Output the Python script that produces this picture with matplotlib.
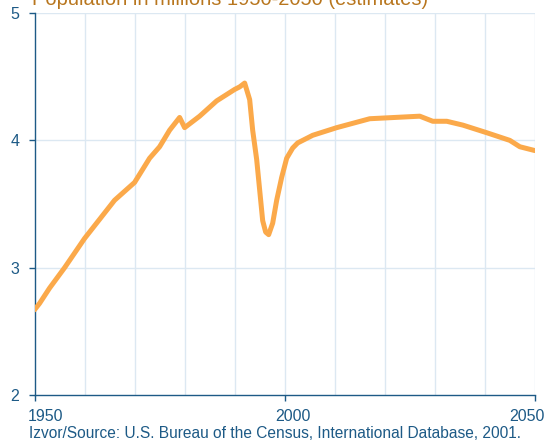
import matplotlib
matplotlib.use("Agg")
import matplotlib.pyplot as plt
from matplotlib.transforms import ScaledTranslation

years = [1950, 1951, 1953, 1956, 1960, 1963, 1966, 1970, 1973, 1975, 1977, 1979,
         1980, 1983, 1986.4, 1990, 1991, 1992, 1993, 1993.6, 1994.4, 1995, 1995.6,
         1996.2, 1996.8, 1997.6, 1998.4, 1999.4, 2000.4, 2001.6, 2002.6, 2005.6,
         2010.4, 2017, 2022, 2027, 2029.6, 2032.4, 2035.6, 2040.4, 2045, 2047, 2050]
population = [2.67, 2.72, 2.84, 3.00, 3.23, 3.38, 3.53, 3.67, 3.86, 3.95, 4.08, 4.18,
              4.10, 4.19, 4.31, 4.40, 4.42, 4.45, 4.32, 4.08, 3.85, 3.61, 3.37,
              3.28, 3.26, 3.35, 3.53, 3.71, 3.86, 3.94, 3.98, 4.04,
              4.10, 4.17, 4.18, 4.19, 4.15, 4.15, 4.12, 4.06, 4.00, 3.95, 3.92]

title = "Population in millions 1950-2050 (estimates)"
source = "Izvor/Source: U.S. Bureau of the Census, International Database, 2001."
xticks = [1950, 2000, 2050]
xtick_labels = ["1950", "2000", "2050"]
yticks = [2, 3, 4, 5]
ytick_labels = ["2", "3", "4", "5"]

plt.rcParams['font.family'] = ['Liberation Sans', 'DejaVu Sans']
blue = "#1d5a86"
grid = "#dce8f2"

fig = plt.figure(figsize=(5.48, 4.41), dpi=100)
ax = fig.add_axes([0.063, 0.104, 0.913, 0.8665])

ax.plot(years, population, color="#fba94a", lw=3.6, solid_joinstyle="round",
        solid_capstyle="round", zorder=3)

ax.set_xlim(1950, 2050)
ax.set_ylim(2, 5)
for yr in range(1960, 2051, 10):
    ax.axvline(yr, color=grid, lw=1, zorder=1)
for v in [3, 4, 5]:
    ax.axhline(v, color=grid, lw=1, zorder=1)

ax.set_xticks(xticks)
ax.set_xticklabels(xtick_labels)
ax.set_yticks(yticks)
ax.set_yticklabels(ytick_labels)
ax.tick_params(axis="both", colors=blue, labelsize=11.5, length=4, width=1)
ax.tick_params(axis="x", pad=6)
ax.tick_params(axis="y", pad=7)
for s in ["top", "right"]:
    ax.spines[s].set_visible(False)
for s in ["left", "bottom"]:
    ax.spines[s].set_color(blue)
    ax.spines[s].set_linewidth(1)

# horizontal label shifts as in the reference (in points)
shifts = [7.9, 6.1, -5.8]
for lab, dx in zip(ax.get_xticklabels(), shifts):
    lab.set_transform(lab.get_transform() + ScaledTranslation(dx / 72, 0, fig.dpi_scale_trans))

fig.text(32 / 548, 1 + 1 / 441, title, color="#b8761e", fontsize=14.5,
         ha="left", va="center")
fig.text(29 / 548, 1 - 434 / 441, source, color=blue, fontsize=11.2,
         ha="left", va="center")

fig.savefig("out.png", dpi=100)
